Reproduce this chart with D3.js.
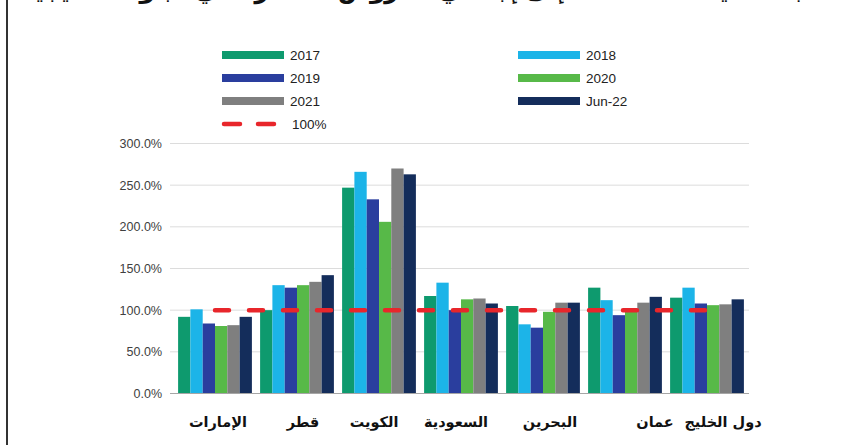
<!DOCTYPE html>
<html>
<head>
<meta charset="utf-8">
<script src="https://cdn.jsdelivr.net/npm/d3@7"></script>
<style>
  body { margin: 0; background: #fff; }
  svg { display: block; }
</style>
</head>
<body>
<script>
// categories, left to right as in the picture
const countries = ["الإمارات", "قطر", "الكويت", "السعودية", "البحرين", "عمان", "دول الخليج"];
const seriesNames = ["2017", "2018", "2019", "2020", "2021", "Jun-22"];
const seriesColours = ["#0e9a6e", "#1cb4e8", "#2a3e9e", "#57b948", "#7f7f7f", "#142d5b"];

// values in percent, one array per year
const v2017 = [92, 100, 247, 117, 105, 127, 115];
const v2018 = [101, 130, 266, 133, 83, 112, 127];
const v2019 = [84, 127, 233, 100, 79, 94, 108];
const v2020 = [81, 130, 206, 113, 98, 99, 106];
const v2021 = [82, 134, 270, 114, 109, 109, 107];
const vJun22 = [92, 142, 263, 108, 109, 116, 113];
const benchmark = [100, 100, 100, 100, 100, 100, 100];

const yTicks = [0, 50, 100, 150, 200, 250, 300];
const labelShift = [3, 6, -5, -5, 7, 30, 16];

const seriesValues = [v2017, v2018, v2019, v2020, v2021, vJun22];

const W = 849, H = 445;
const svg = d3.select("body").append("svg")
  .attr("width", W)
  .attr("height", H);

// frame line on the left
svg.append("line")
  .attr("x1", 7).attr("x2", 7)
  .attr("y1", 0).attr("y2", H)
  .attr("stroke", "#333")
  .attr("stroke-width", 2);

// title, cut off at the top of the picture like in the scan
svg.append("text")
  .attr("x", 836)
  .attr("y", -2)
  .attr("direction", "rtl")
  .attr("text-anchor", "start")
  .attr("textLength", 815)
  .attr("font-family", "DejaVu Sans")
  .attr("font-weight", "bold")
  .attr("font-size", 25)
  .attr("fill", "#111")
  .text("نسبة تغطية المخصصات إلى إجمالي القروض المتعثرة في البنوك الخليجية");

const x = d3.scaleBand()
  .domain(countries)
  .range([174, 748])
  .paddingInner(0.1)
  .paddingOuter(0.05);

const xs = d3.scaleBand()
  .domain(seriesNames)
  .range([0, x.bandwidth()]);

const y = d3.scaleLinear()
  .domain([0, 300])
  .range([393.5, 143.5]);

// gridlines
svg.append("g")
  .selectAll("line")
  .data(yTicks.slice(1))
  .join("line")
    .attr("x1", 170).attr("x2", 749)
    .attr("y1", d => y(d)).attr("y2", d => y(d))
    .attr("stroke", "#dcdcdc")
    .attr("stroke-width", 1);

// y axis labels
const yAxis = svg.append("g")
  .attr("transform", "translate(170,0)")
  .call(d3.axisLeft(y).tickValues(yTicks).tickSize(0).tickPadding(8)
    .tickFormat(d => d.toFixed(1) + "%"));
yAxis.select(".domain").remove();
yAxis.selectAll("text")
  .attr("font-family", "Liberation Sans, Arial, sans-serif")
  .attr("font-size", 12.5)
  .attr("fill", "#404040");

// bars
const groups = svg.append("g")
  .selectAll("g")
  .data(countries)
  .join("g")
    .attr("transform", d => "translate(" + x(d) + ",0)");

groups.selectAll("rect")
  .data((c, i) => seriesNames.map((s, j) => ({ s: s, v: seriesValues[j][i], col: seriesColours[j] })))
  .join("rect")
    .attr("x", d => xs(d.s))
    .attr("y", d => y(d.v))
    .attr("width", xs.bandwidth())
    .attr("height", d => y(0) - y(d.v))
    .attr("fill", d => d.col);

// x axis line
svg.append("line")
  .attr("x1", 170).attr("x2", 749)
  .attr("y1", y(0)).attr("y2", y(0))
  .attr("stroke", "#a6a6a6")
  .attr("stroke-width", 1.2);

// 100% dashed line
const line = d3.line()
  .x((d, i) => x(countries[i]) + x.bandwidth() / 2)
  .y(d => y(d));
svg.append("path")
  .attr("d", line(benchmark))
  .attr("fill", "none")
  .attr("stroke", "#e8262b")
  .attr("stroke-width", 4.5)
  .attr("stroke-linecap", "round")
  .attr("stroke-dasharray", "14,20");

// category labels
svg.append("g")
  .selectAll("text")
  .data(countries)
  .join("text")
    .attr("x", (d, i) => x(d) + x.bandwidth() / 2 + labelShift[i])
    .attr("y", 427)
    .attr("text-anchor", "middle")
    .attr("direction", "rtl")
    .attr("font-family", "DejaVu Sans")
    .attr("font-weight", "bold")
    .attr("font-size", 14.5)
    .attr("fill", "#111")
    .text(d => d);

// legend
const legendItems = seriesNames.map((s, i) => ({ name: s, col: seriesColours[i], kind: "bar" }));
legendItems.push({ name: "100%", col: "#e8262b", kind: "dash" });

const legend = svg.append("g")
  .selectAll("g")
  .data(legendItems)
  .join("g")
    .attr("transform", (d, i) => "translate(" + (i % 2 === 0 || d.kind === "dash" ? 222 : 518) + "," + (55 + 23 * Math.floor(i / 2)) + ")");

legend.filter(d => d.kind === "bar")
  .append("rect")
    .attr("x", 0).attr("y", -4)
    .attr("width", 62).attr("height", 8)
    .attr("fill", d => d.col);

legend.filter(d => d.kind === "dash")
  .append("line")
    .attr("x1", 2).attr("x2", 52)
    .attr("y1", 0).attr("y2", 0)
    .attr("stroke", d => d.col)
    .attr("stroke-width", 4.5)
    .attr("stroke-linecap", "round")
    .attr("stroke-dasharray", "16,18");

legend.append("text")
  .attr("x", d => d.kind === "dash" ? 70 : 68)
  .attr("y", 0)
  .attr("dy", "0.35em")
  .attr("font-family", "Liberation Sans, Arial, sans-serif")
  .attr("font-size", 13.5)
  .attr("fill", "#222")
  .text(d => d.name);
</script>
</body>
</html>
